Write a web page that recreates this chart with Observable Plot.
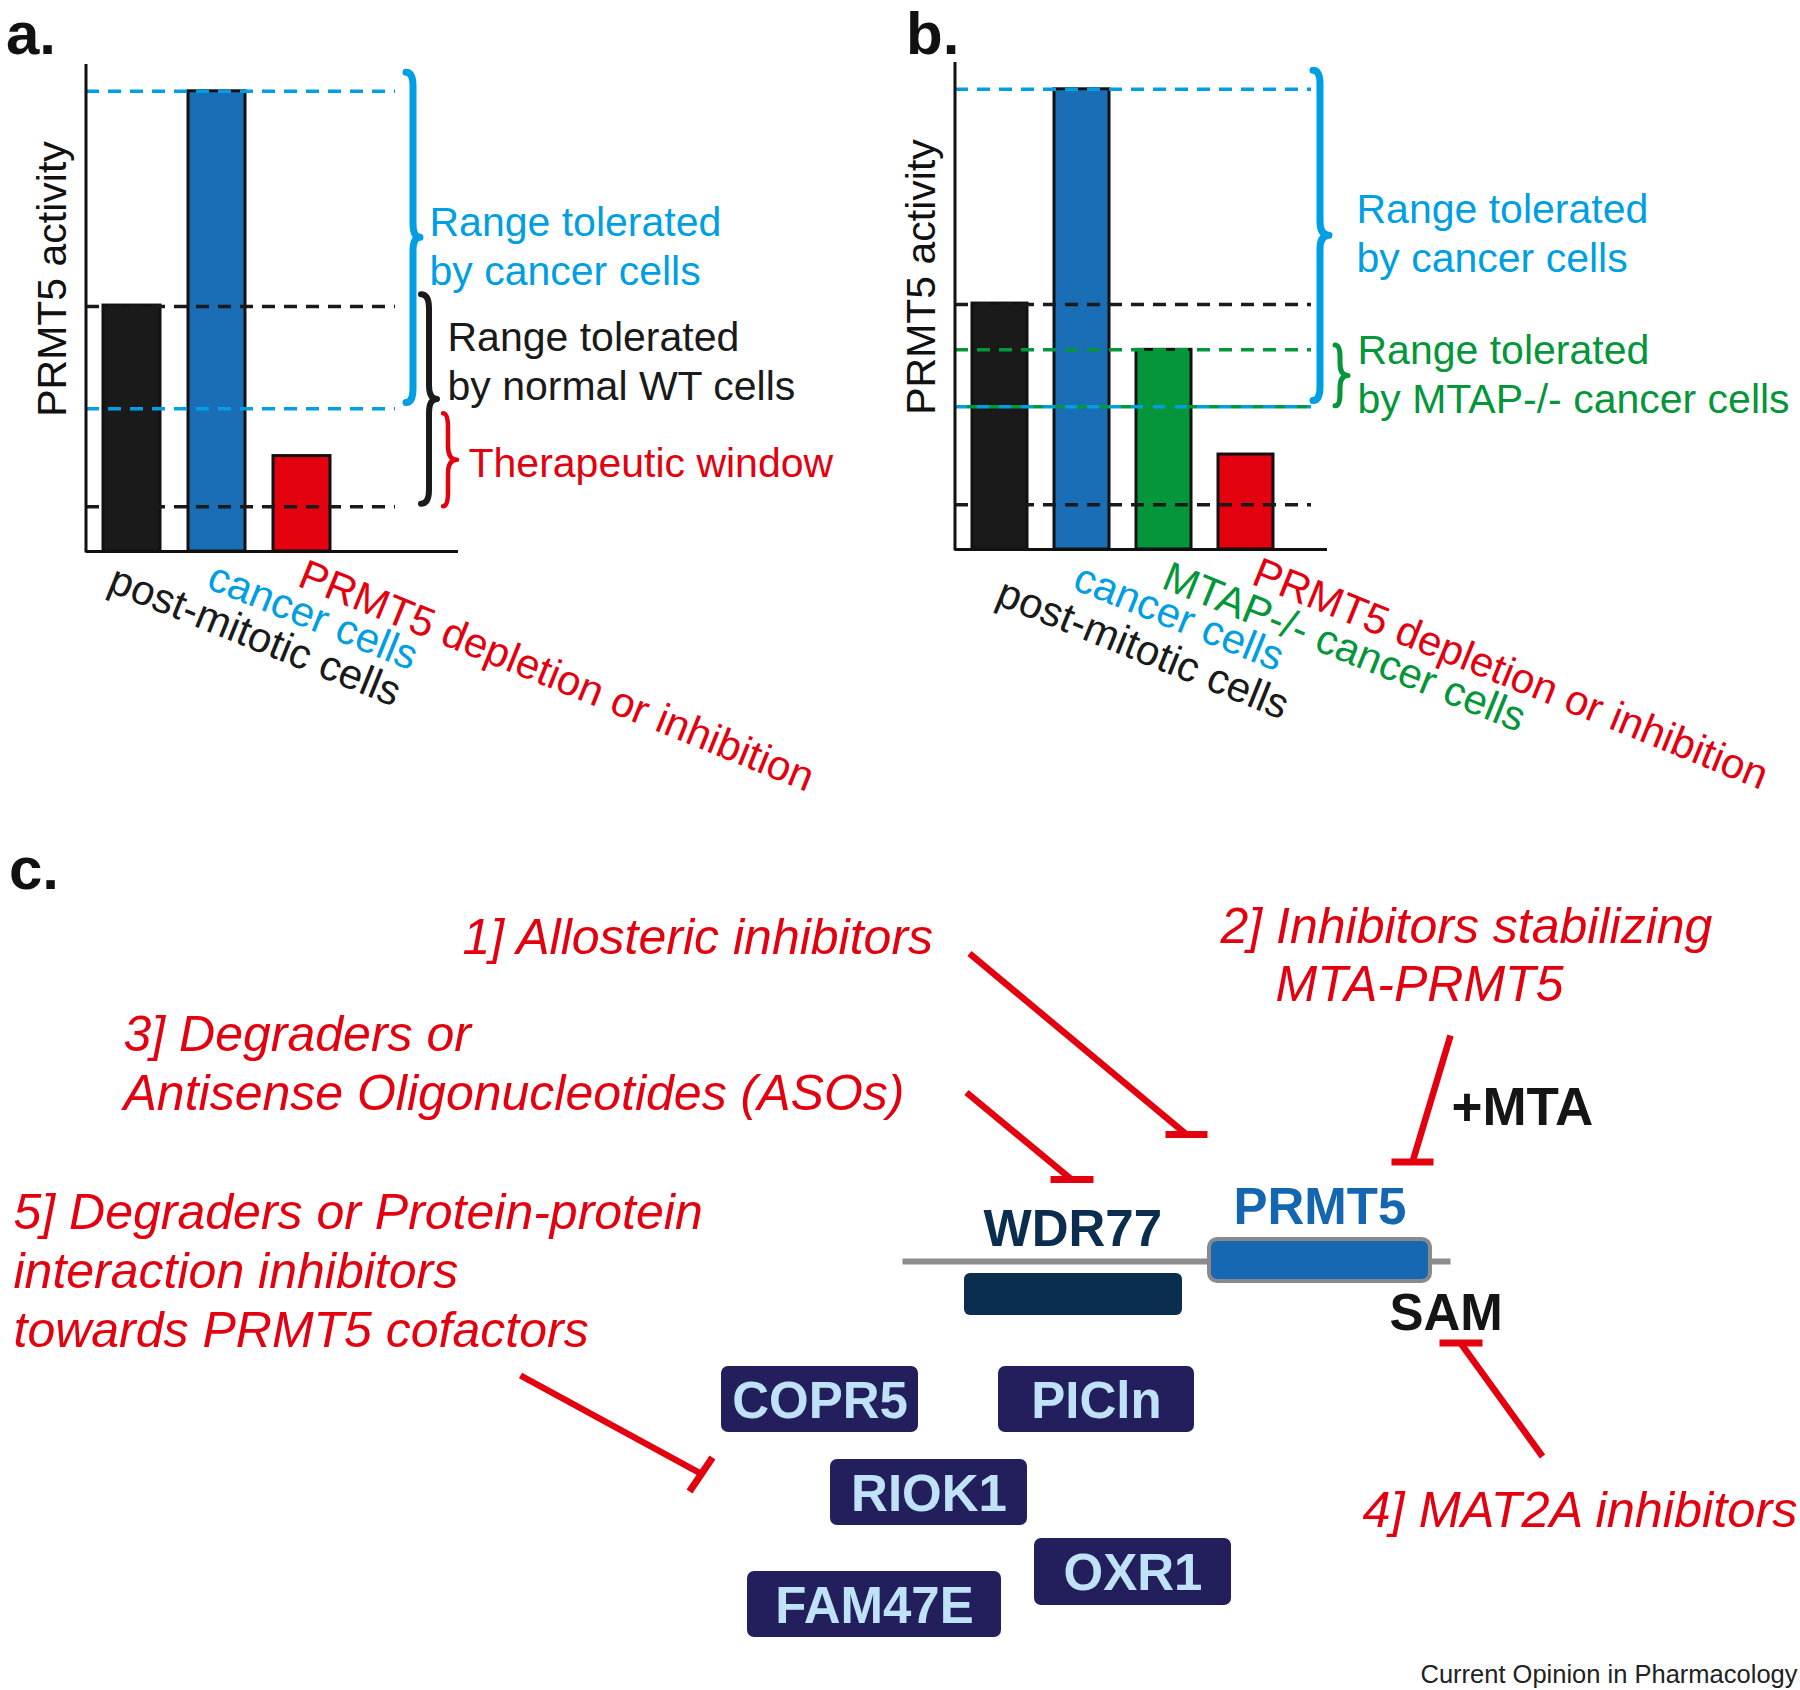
<!DOCTYPE html>
<html>
<head>
<meta charset="utf-8">
<script src="https://cdn.jsdelivr.net/npm/d3@7"></script>
<script src="https://cdn.jsdelivr.net/npm/@observablehq/plot@0.6"></script>
<style>
  html, body { margin: 0; padding: 0; background: #fff; }
  #fig { position: relative; width: 1800px; height: 1690px; overflow: hidden; background: #fff;
         font-family: "Liberation Sans", Arial, Helvetica, sans-serif; }
  .panel { position: absolute; }
  .tag { position: absolute; font-weight: bold; font-size: 60px; line-height: 62px; color: #111; white-space: nowrap; }
</style>
</head>
<body>
<div id="fig"></div>
<script>
// ------------------------------------------------------------------ data
const panelTags = ["a.", "b.", "c."];
const yAxisLabel = "PRMT5 activity";

const panelACategories = ["post-mitotic cells", "cancer cells", "PRMT5 depletion or inhibition"];
const panelAActivity   = [50.5, 94.5, 19.6];

const panelBCategories = ["post-mitotic cells", "cancer cells", "MTAP-/- cancer cells", "PRMT5 depletion or inhibition"];
const panelBActivity   = [50.5, 94.5, 41.0, 19.5];

// tolerated activity ranges (dashed reference lines), [low, high]
const cancerTolerated = [29.3, 94.5];
const normalTolerated = [9.2, 50.3];
const mtapTolerated   = [29.3, 41.0];

// brace extents, [low, high]
const braceCancer = [30.5, 98.3];
const braceNormal = [9.7, 52.7];
const braceWindow = [9.2, 28.3];
const braceMtap   = [29.4, 41.9];

const noteCancer = "Range tolerated\nby cancer cells";
const noteNormal = "Range tolerated\nby normal WT cells";
const noteWindow = "Therapeutic window";
const noteMtap   = "Range tolerated\nby MTAP-/- cancer cells";

// panel c
const complexNames   = ["WDR77", "PRMT5"];
const cofactorNames  = ["COPR5", "PICln", "RIOK1", "OXR1", "FAM47E"];
const metaboliteNames = ["+MTA", "SAM"];
const strategyLabels = [
  "1] Allosteric inhibitors",
  "2] Inhibitors stabilizing\nMTA-PRMT5",
  "3] Degraders or\nAntisense Oligonucleotides (ASOs)",
  "4] MAT2A inhibitors",
  "5] Degraders or Protein-protein\ninteraction inhibitors\ntowards PRMT5 cofactors"
];
const caption = "Current Opinion in Pharmacology";

// ------------------------------------------------------------------ style
const FONT = '"Liberation Sans", Arial, Helvetica, sans-serif';
const RED = "#e3000f", CYAN = "#009fe3", BLUE = "#1a6eb5", GREEN = "#05963b", INK = "#1a1a1a";
const BAR_COLOR   = {"post-mitotic cells": INK, "cancer cells": BLUE, "MTAP-/- cancer cells": GREEN, "PRMT5 depletion or inhibition": RED};
const LABEL_COLOR = {"post-mitotic cells": INK, "cancer cells": CYAN, "MTAP-/- cancer cells": GREEN, "PRMT5 depletion or inhibition": RED};

function svgEl(tag, attrs) {
  const e = document.createElementNS("http://www.w3.org/2000/svg", tag);
  for (const k in attrs) e.setAttribute(k, attrs[k]);
  return e;
}

// y axis line drawn from the y scale
function yAxisLine(index, scales, values, dims) {
  return svgEl("line", {x1: dims.marginLeft, x2: dims.marginLeft, y1: scales.y(100), y2: scales.y(0) + 1.5,
    stroke: "#111", "stroke-width": 3});
}

// curly brace spanning a y range
function braceMark(range, offset, color, sw, hook, tip) {
  return (index, scales, values, dims) => {
    const x = dims.width - dims.marginRight + offset;
    const y0 = scales.y(range[1]), y1 = scales.y(range[0]);
    const ym = (y0 + y1) / 2, r = Math.min(14, (y1 - y0) / 5);
    const d = `M${x - hook},${y0} Q${x},${y0} ${x},${y0 + r} L${x},${ym - r} Q${x},${ym} ${x + tip},${ym}` +
              ` Q${x},${ym} ${x},${ym + r} L${x},${y1 - r} Q${x},${y1} ${x - hook},${y1}`;
    return svgEl("path", {d, fill: "none", stroke: color, "stroke-width": sw, "stroke-linejoin": "round", "stroke-linecap": "round"});
  };
}

function barPanel(cfg) {
  const rows = cfg.categories.map((c, i) => ({category: c, activity: cfg.values[i], color: BAR_COLOR[c], labelColor: LABEL_COLOR[c]}));
  const marks = [
    Plot.barY(rows, {x: "category", y: "activity", fill: "color", stroke: "#111", strokeWidth: 3}),
    ...cfg.lines.map(l => Plot.ruleY([l.value], {stroke: l.color, strokeWidth: 3.5, strokeDasharray: l.dash,
        strokeDashoffset: l.offset || 0, insetRight: cfg.lineInsetRight})),
    Plot.ruleY([0], {stroke: "#111", strokeWidth: 3}),
    yAxisLine,
    ...cfg.braces.map(b => braceMark(b.range, b.offset, b.color, b.sw, b.hook, b.tip)),
    ...cfg.notes.map(n => Plot.text([n.text], {text: d => d, y: [(n.range[0] + n.range[1]) / 2], frameAnchor: "right",
        dx: n.dx, dy: n.dy, textAnchor: "start", lineAnchor: "bottom", lineHeight: 1.2, fontSize: 41, fill: n.color})),
    ...rows.map((r, i) => Plot.text([r], {x: "category", text: "category", frameAnchor: "bottom", rotate: 22,
        textAnchor: "start", lineAnchor: "bottom", fontSize: 42, fill: "labelColor",
        dx: cfg.tickOffsets[i][0], dy: cfg.tickOffsets[i][1]})),
    Plot.text([yAxisLabel], {text: d => d, frameAnchor: "left", rotate: -90, dx: -21, dy: -29,
        textAnchor: "middle", lineAnchor: "bottom", fontSize: 41, fill: "#111"})
  ];
  return Plot.plot({
    width: cfg.width, height: 820,
    marginLeft: cfg.marginLeft, marginRight: cfg.marginRight, marginTop: cfg.marginTop, marginBottom: cfg.marginBottom,
    style: {fontFamily: FONT, background: "transparent", overflow: "visible"},
    x: {type: "band", domain: cfg.categories, range: cfg.xRange, paddingInner: 0.33, paddingOuter: 0, align: 0, axis: null},
    y: {domain: [0, 100], axis: null},
    color: {type: "identity"},
    marks
  });
}

const fig = document.getElementById("fig");
function place(node, left, top) {
  const div = document.createElement("div");
  div.className = "panel";
  div.style.left = left + "px";
  div.style.top = top + "px";
  div.appendChild(node);
  fig.appendChild(div);
}

// ---------------- panel a
place(barPanel({
  categories: panelACategories, values: panelAActivity,
  width: 880, marginLeft: 86, marginRight: 422, marginTop: 64, marginBottom: 269,
  xRange: [103, 330], lineInsetRight: 63,
  lines: [
    {value: cancerTolerated[1], color: CYAN, dash: "13 9"},
    {value: normalTolerated[1], color: INK, dash: "13 9"},
    {value: cancerTolerated[0], color: CYAN, dash: "13 9"},
    {value: normalTolerated[0], color: INK, dash: "13 9"}
  ],
  braces: [
    {range: braceCancer, offset: -45, color: CYAN, sw: 7, hook: 7, tip: 7},
    {range: braceNormal, offset: -29, color: INK, sw: 6, hook: 8, tip: 8},
    {range: braceWindow, offset: -10, color: RED, sw: 4.5, hook: 5, tip: 9}
  ],
  notes: [
    {text: noteCancer, range: braceCancer, dx: -29, dy: 47.6, color: CYAN},
    {text: noteNormal, range: braceNormal, dx: -11, dy: 0.5, color: INK},
    {text: noteWindow, range: braceWindow, dx: 10, dy: 17, color: RED}
  ],
  tickOffsets: [[-26, 39], [-12, 36], [-6, 34]]
}), 0, 0);

// ---------------- panel b
place(barPanel({
  categories: panelBCategories, values: panelBActivity,
  width: 920, marginLeft: 75, marginRight: 473, marginTop: 62, marginBottom: 271,
  xRange: [92, 394], lineInsetRight: 16,
  lines: [
    {value: cancerTolerated[1], color: CYAN, dash: "13 9"},
    {value: normalTolerated[1], color: INK, dash: "13 9"},
    {value: mtapTolerated[1], color: GREEN, dash: "13 9"},
    {value: cancerTolerated[0], color: CYAN, dash: "12 10"},
    {value: mtapTolerated[0], color: GREEN, dash: "10 12", offset: -12},
    {value: normalTolerated[0], color: INK, dash: "13 9"}
  ],
  braces: [
    {range: braceCancer, offset: -7, color: CYAN, sw: 7, hook: 7, tip: 9},
    {range: braceMtap, offset: 13, color: GREEN, sw: 5, hook: 5, tip: 8}
  ],
  notes: [
    {text: noteCancer, range: braceCancer, dx: 29, dy: 36.4, color: CYAN},
    {text: noteMtap, range: braceMtap, dx: 30, dy: 37.6, color: GREEN}
  ],
  tickOffsets: [[-6, 54], [-11, 39], [-4, 38], [4, 34]]
}), 880, 0);

// ---------------- panel c (schematic; layout in figure pixels)
const LAYOUT = {
  backbone: [902, 1261, 1450, 1261],
  complexBoxes: [[964, 1182, 1273, 1315], [1209, 1430, 1239, 1281]],
  complexText: [[983, 1245], [1233, 1223.5]],
  cofactorBoxes: [[721, 918, 1366, 1432], [998, 1194, 1366, 1432], [830, 1027, 1459, 1525], [1034, 1231, 1538, 1605], [747, 1001, 1571, 1637]],
  metaboliteText: [[1451, 1124], [1389, 1329]],
  metaboliteSize: [53, 51],
  strategyText: [
    {x: 462, y: 953, step: 59},
    {x: 1220, y: 942, step: 58.5, indent: [0, 55]},
    {x: 123, y: 1050, step: 59},
    {x: 1362, y: 1526, step: 59},
    {x: 13, y: 1228, step: 59}
  ],
  strategySize: [50, 50, 50, 50.5, 50],
  // [line x1,y1,x2,y2], [bar x1,y1,x2,y2]
  inhibitions: [
    [[969, 953, 1186, 1134], [1165, 1134, 1207, 1134]],
    [[1450, 1035, 1412, 1161.5], [1391, 1161.5, 1433, 1161.5]],
    [[966, 1092, 1071, 1179], [1050, 1179, 1093, 1179]],
    [[1542, 1456, 1460, 1342.5], [1439, 1342.5, 1482, 1342.5]],
    [[520, 1375, 702, 1474], [689, 1491, 712, 1457]]
  ],
  caption: [1797, 1682]
};
const COMPLEX_FILL = ["#0b2d4e", "#1668b2"];
const COMPLEX_TEXT = ["#0b2d4e", "#1566b0"];

const complexRows = complexNames.map((n, i) => {
  const b = LAYOUT.complexBoxes[i], t = LAYOUT.complexText[i];
  return {name: n, x1: b[0], x2: b[1], y1: b[2], y2: b[3], tx: t[0], ty: t[1], fill: COMPLEX_FILL[i], ink: COMPLEX_TEXT[i]};
});
const cofactorRows = cofactorNames.map((n, i) => {
  const b = LAYOUT.cofactorBoxes[i];
  return {name: n, x1: b[0], x2: b[1], y1: b[2], y2: b[3]};
});
const metaboliteRows = metaboliteNames.map((n, i) => ({name: n, x: LAYOUT.metaboliteText[i][0], y: LAYOUT.metaboliteText[i][1]}));
const strategyRows = strategyLabels.map((t, i) => {
  const L = LAYOUT.strategyText[i];
  return t.split("\n").map((line, j) => ({line, x: L.x + (L.indent ? L.indent[j] : 0), y: L.y + j * L.step}));
});
const inhibitionLines = LAYOUT.inhibitions.map(d => d[0]);
const inhibitionBars = LAYOUT.inhibitions.map(d => d[1]);
const seg = {x1: d => d[0], y1: d => d[1], x2: d => d[2], y2: d => d[3]};

const panelC = Plot.plot({
  width: 1800, height: 870, margin: 0,
  style: {fontFamily: FONT, background: "transparent", overflow: "visible"},
  x: {domain: [0, 1800], range: [0, 1800], axis: null},
  y: {domain: [820, 1690], range: [0, 870], axis: null},
  color: {type: "identity"},
  marks: [
    Plot.link([LAYOUT.backbone], {...seg, stroke: "#8c8c8c", strokeWidth: 6}),
    Plot.rect([complexRows[0]], {x1: "x1", x2: "x2", y1: "y1", y2: "y2", fill: "fill", rx: 6}),
    Plot.rect([complexRows[1]], {x1: "x1", x2: "x2", y1: "y1", y2: "y2", fill: "fill", stroke: "#8a8a8a", strokeWidth: 4, rx: 8}),
    Plot.text(complexRows, {x: "tx", y: "ty", text: "name", fill: "ink", fontSize: 51, fontWeight: "bold",
      textAnchor: "start", lineAnchor: "bottom"}),
    Plot.rect(cofactorRows, {x1: "x1", x2: "x2", y1: "y1", y2: "y2", fill: "#221f5c", rx: 7}),
    Plot.text(cofactorRows, {x: d => (d.x1 + d.x2) / 2, y: d => (d.y1 + d.y2) / 2, text: "name", fill: "#bfe2f7",
      fontSize: 51, fontWeight: "bold", textAnchor: "middle", lineAnchor: "middle", dy: 2}),
    Plot.text([metaboliteRows[0]], {x: "x", y: "y", text: "name", fill: "#151515", fontSize: LAYOUT.metaboliteSize[0], fontWeight: "bold",
      textAnchor: "start", lineAnchor: "bottom"}),
    Plot.text([metaboliteRows[1]], {x: "x", y: "y", text: "name", fill: "#151515", fontSize: LAYOUT.metaboliteSize[1], fontWeight: "bold",
      textAnchor: "start", lineAnchor: "bottom"}),
    Plot.link(inhibitionLines, {...seg, stroke: RED, strokeWidth: 6.5}),
    Plot.link(inhibitionBars, {...seg, stroke: RED, strokeWidth: 7}),
    ...strategyRows.map((rowsI, i) => Plot.text(rowsI, {x: "x", y: "y", text: "line", fill: RED,
      fontSize: LAYOUT.strategySize[i], fontStyle: "italic", textAnchor: "start", lineAnchor: "bottom"})),
    Plot.text([caption], {text: d => d, x: [LAYOUT.caption[0]], y: [LAYOUT.caption[1]], fill: "#222", fontSize: 25.5,
      textAnchor: "end", lineAnchor: "bottom"})
  ]
});
place(panelC, 0, 820);

// panel tags
[[6, 3], [906, 3], [9, 838]].forEach((p, i) => {
  const s = document.createElement("div");
  s.className = "tag";
  s.style.left = p[0] + "px";
  s.style.top = p[1] + "px";
  s.textContent = panelTags[i];
  fig.appendChild(s);
});
</script>
</body>
</html>
